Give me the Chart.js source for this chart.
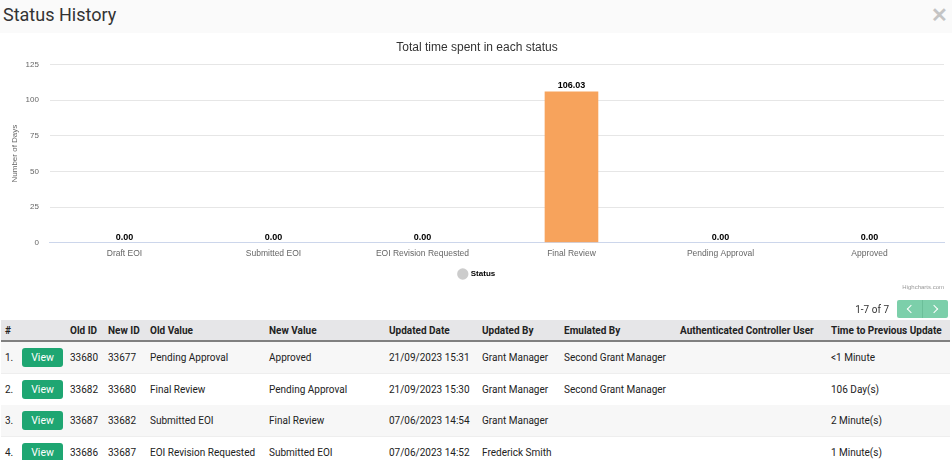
<!DOCTYPE html>
<html>
<head>
<meta charset="utf-8">
<script src="https://cdn.jsdelivr.net/npm/chart.js@4"></script>
<style>
  body { margin:0; width:952px; height:460px; overflow:hidden; background:#fff; font-family:Roboto, "Liberation Sans", Arial, sans-serif; color:#222; position:relative; }
  .head { position:absolute; left:0; top:0; width:952px; height:33px; background:#fafafa; }
  .head h1 { margin:0; position:absolute; left:3px; top:4px; font-size:18px; font-weight:normal; color:#333; }
  .close { position:absolute; right:4px; top:3px; font-size:20px; color:#c4c4c4; font-weight:bold; }
  #wrap { position:absolute; left:0; top:34px; width:952px; height:256px; }
  .credit { position:absolute; right:8px; top:284px; font-family:"Liberation Sans", Arial, sans-serif; font-size:6px; color:#999; }
  .pager { position:absolute; right:4px; top:300px; height:18px; display:flex; align-items:center; font-size:10px; color:#333; }
  .pager .btns { display:flex; margin-left:8px; background:#7ccfaa; border-radius:2px; height:18px; }
  .pager .btns span { width:25px; height:18px; position:relative; }
  .pager .btns span + span { border-left:1px solid #6bbf99; }
  .pager .btns span::after { content:''; position:absolute; top:6px; width:5px; height:5px; border-top:1.5px solid #fff; border-right:1.5px solid #fff; }
  .pager .prev::after { left:11px; transform:rotate(-135deg); }
  .pager .next::after { left:8px; transform:rotate(45deg); }
  table { position:absolute; left:1px; top:320px; border-collapse:collapse; table-layout:fixed; width:949px; font-size:10px; }
  th { background:#e6e6e8; font-weight:bold; text-align:left; height:20px; padding:0 0 0 4px; border-bottom:2px solid #808080; font-size:10px; white-space:nowrap; }
  td { height:31px; padding:0 0 0 4px; white-space:nowrap; }
  tr.odd td { background:#f7f7f7; }
  tr.even td { background:#fff; border-top:1px solid #eee; }
  .view { display:inline-block; width:41px; height:19px; line-height:19px; text-align:center; background:#1ea672; color:#fff; border-radius:3px; font-size:10.5px; }
</style>
</head>
<body>
<div class="head"><h1>Status History</h1><span class="close">&#x2715;</span></div>
<div id="wrap"><canvas id="myChart"></canvas></div>
<div class="credit">Highcharts.com</div>
<div class="pager">1-7 of 7<div class="btns"><span class="prev"></span><span class="next"></span></div></div>
<table id="hist">
  <colgroup>
    <col style="width:17px"><col style="width:48px"><col style="width:38px"><col style="width:42px"><col style="width:119px"><col style="width:120px"><col style="width:93px"><col style="width:82px"><col style="width:116px"><col style="width:151px"><col style="width:123px">
  </colgroup>
  <thead><tr><th>#</th><th></th><th>Old ID</th><th>New ID</th><th>Old Value</th><th>New Value</th><th>Updated Date</th><th>Updated By</th><th>Emulated By</th><th>Authenticated Controller User</th><th>Time to Previous Update</th></tr></thead>
  <tbody></tbody>
</table>
<script>
// chart data
var statuses = ['Draft EOI', 'Submitted EOI', 'EOI Revision Requested', 'Final Review', 'Pending Approval', 'Approved'];
var daysInStatus = [0, 0, 0, 106.03, 0, 0];
var yTicks = [0, 25, 50, 75, 100, 125];

// table rows
var oldIds = ['33680', '33682', '33687', '33686'];
var newIds = ['33677', '33680', '33682', '33687'];
var oldValues = ['Pending Approval', 'Final Review', 'Submitted EOI', 'EOI Revision Requested'];
var newValues = ['Approved', 'Pending Approval', 'Final Review', 'Submitted EOI'];
var updatedDates = ['21/09/2023 15:31', '21/09/2023 15:30', '07/06/2023 14:54', '07/06/2023 14:52'];
var updatedBy = ['Grant Manager', 'Grant Manager', 'Grant Manager', 'Frederick Smith'];
var emulatedBy = ['Second Grant Manager', 'Second Grant Manager', '', ''];
var timeToPrev = ['<1 Minute', '106 Day(s)', '2 Minute(s)', '1 Minute(s)'];

var tbody = document.querySelector('#hist tbody');
oldIds.forEach(function (id, i) {
  var tr = document.createElement('tr');
  tr.className = i % 2 ? 'even' : 'odd';
  var cells = [(i + 1) + '.', '<span class="view">View</span>', id, newIds[i], oldValues[i], newValues[i], updatedDates[i], updatedBy[i], emulatedBy[i], '', timeToPrev[i]];
  cells.forEach(function (c, j) {
    var td = document.createElement('td');
    if (j === 1) td.innerHTML = c; else td.textContent = c;
    tr.appendChild(td);
  });
  tbody.appendChild(tr);
});

// value labels above bars
var barLabels = {
  id: 'barLabels',
  afterDatasetsDraw: function (chart) {
    var c = chart.ctx;
    var meta = chart.getDatasetMeta(0);
    c.save();
    c.font = 'bold 9px "Liberation Sans", Arial, sans-serif';
    c.fillStyle = '#000';
    c.textAlign = 'center';
    c.textBaseline = 'bottom';
    meta.data.forEach(function (bar, i) {
      c.fillText(daysInStatus[i].toFixed(2), bar.x, bar.y - 1);
    });
    c.restore();
  }
};

var ctx = document.getElementById('myChart').getContext('2d');
var myChart = new Chart(ctx, {
  type: 'bar',
  data: {
    labels: statuses,
    datasets: [{
      label: 'Status',
      data: daysInStatus,
      backgroundColor: '#f7a35c',
      categoryPercentage: 1,
      barPercentage: 0.36
    }]
  },
  options: {
    responsive: true,
    maintainAspectRatio: false,
    animation: false,
    layout: { padding: { left: 10, right: 8, top: 0, bottom: 2 } },
    plugins: {
      title: {
        display: true,
        text: 'Total time spent in each status',
        color: '#333',
        font: { family: '"Liberation Sans", Arial, sans-serif', size: 12, weight: 'normal' },
        padding: { top: 6, bottom: 10 }
      },
      legend: {
        position: 'bottom',
        labels: {
          usePointStyle: true,
          boxWidth: 8,
          boxHeight: 8,
          padding: 5,
          color: '#333',
          font: { family: '"Liberation Sans", Arial, sans-serif', size: 8, weight: 'bold' },
          generateLabels: function () {
            return [{ text: 'Status', fillStyle: '#cccccc', strokeStyle: '#cccccc', lineWidth: 0, pointStyle: 'circle', datasetIndex: 0 }];
          }
        }
      },
      tooltip: { enabled: false }
    },
    scales: {
      y: {
        min: 0,
        max: 125,
        afterBuildTicks: function (axis) { axis.ticks = yTicks.map(function (v) { return { value: v }; }); },
        grid: { color: '#e6e6e6', drawTicks: false },
        border: { display: false },
        ticks: { color: '#666', padding: 11, font: { family: '"Liberation Sans", Arial, sans-serif', size: 8 } },
        title: { display: true, text: 'Number of Days', color: '#666', padding: { top: 0, bottom: -5 }, font: { family: '"Liberation Sans", Arial, sans-serif', size: 8 } }
      },
      x: {
        grid: { display: false, drawTicks: false },
        border: { color: '#ccd6eb' },
        ticks: { color: '#666', padding: 6, maxRotation: 0, font: { family: '"Liberation Sans", Arial, sans-serif', size: 8.5 } }
      }
    }
  },
  plugins: [barLabels]
});
</script>
</body>
</html>
